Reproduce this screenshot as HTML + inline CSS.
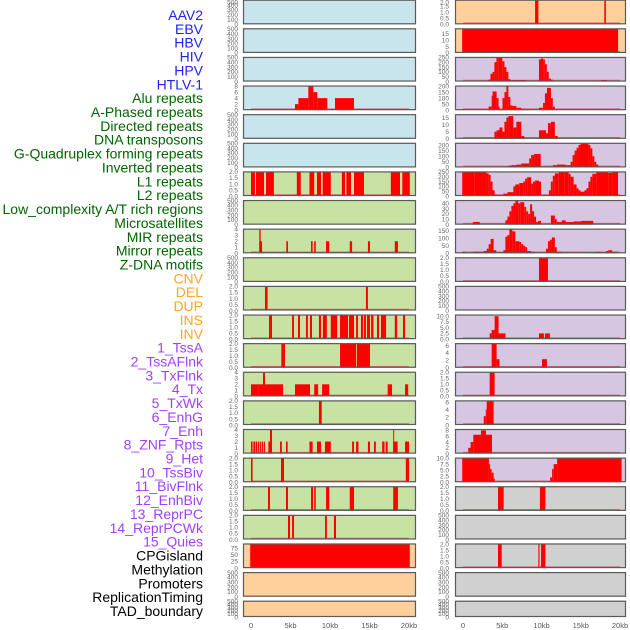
<!DOCTYPE html>
<html><head><meta charset="utf-8">
<style>
html,body{margin:0;padding:0;background:#fff;}
svg{display:block;font-family:"Liberation Sans",sans-serif;}
</style></head>
<body>
<svg id="chart" width="630" height="630" viewBox="0 0 630 630"></svg>
<script>
const labels = ["AAV2","EBV","HBV","HIV","HPV","HTLV-1","Alu repeats","A-Phased repeats","Directed repeats","DNA transposons","G-Quadruplex forming repeats","Inverted repeats","L1 repeats","L2 repeats","Low_complexity A/T rich regions","Microsatellites","MIR repeats","Mirror repeats","Z-DNA motifs","CNV","DEL","DUP","INS","INV","1_TssA","2_TssAFlnk","3_TxFlnk","4_Tx","5_TxWk","6_EnhG","7_Enh","8_ZNF_Rpts","9_Het","10_TssBiv","11_BivFlnk","12_EnhBiv","13_ReprPC","14_ReprPCWk","15_Quies","CPGisland","Methylation","Promoters","ReplicationTiming","TAD_boundary"];
const labelGroups = [6,13,5,15,5];
const groupColors = ["#2020ff","#006400","#ffa520","#a040ff","#000000"];
const xTicks = [0,5,10,15,20];
const xTickLabels = ["0","5kb","10kb","15kb","20kb"];

// y-axis scale per row: left column and right column
const leftYmax  = [500,500,500,8,500,500,2,500,4,500,2,2,2,4,2,4,2,2,2,90,500,500];
const rightYmax = [2,19,250,200,17,215,250,45,160,2,500,10.5,6.5,2,6.3,8.3,10,2,500,2,500,500];
const leftBg  = ["#c8e4ec","#c8e4ec","#c8e4ec","#c8e4ec","#c8e4ec","#c8e4ec","#c8e2a4","#c8e2a4","#c8e2a4","#c8e2a4","#c8e2a4","#c8e2a4","#c8e2a4","#c8e2a4","#c8e2a4","#c8e2a4","#c8e2a4","#c8e2a4","#c8e2a4","#ffd09c","#ffd09c","#ffd09c"];
const rightBg = ["#ffd09c","#ffd09c","#d6c6e2","#d6c6e2","#d6c6e2","#d6c6e2","#d6c6e2","#d6c6e2","#d6c6e2","#d6c6e2","#d6c6e2","#d6c6e2","#d6c6e2","#d6c6e2","#d6c6e2","#d6c6e2","#d6c6e2","#d0d0d0","#d0d0d0","#d0d0d0","#d0d0d0","#d0d0d0"];

const tick500 = [0,100,200,300,400,500];
const tick2 = [0,0.5,1,1.5,2];
const tick4 = [0,1,2,3,4];
const tick8 = [0,2,4,6,8];
const leftTicks  = [tick500,tick500,tick500,tick8,tick500,tick500,tick2,tick500,tick4,tick500,tick2,tick2,tick2,tick4,tick2,tick4,tick2,tick2,tick2,[0,25,50,75],tick500,tick500];
const rightTicks = [tick2,[0,5,10,15],[0,50,100,150,200,250],[0,50,100,150,200],[0,5,10,15],[0,50,100,150,200],[0,50,100,150,200,250],[0,10,20,30,40],[0,50,100,150],tick2,tick500,[0,2.5,5,7.5,10],[0,2,4,6],tick2,[0,2,4,6],tick8,[0,2.5,5,7.5,10],tick2,tick500,tick2,tick500,tick500];

// segments: [startKb, endKb, value]
const L3 = [[5.57,6.0,2],[6.0,7.26,4],[7.26,7.9,8],[7.9,8.4,6],[8.4,9.66,4],[10.63,13.04,4]];
const L6 = [[0,0.5,2],[0.63,1.65,2],[1.9,2.9,2],[5.8,6.3,2],[7.4,8.0,2],[8.35,8.86,2],[9.07,10.1,2],[11.5,11.9,2],[12.07,12.66,2],[13.04,14.3,2],[17.7,18.86,2],[19.15,20.1,2]];
const L8 = [[1.05,1.4,2],[1.05,1.22,4],[4.47,4.68,2],[7.6,7.8,2],[8.0,8.2,2],[9.5,9.9,2],[12.5,12.8,2],[14.8,15.06,2],[18.2,18.6,2]];
const L10 = [[1.77,2.1,2],[14.55,14.8,2]];
const L11 = [[2.28,2.66,2],[5.2,5.44,2],[5.95,6.2,2],[6.96,7.2,2],[7.47,7.72,2],[8.6,8.86,2],[9.1,9.6,2],[10.1,10.9,2],[11.27,12.28,2],[12.4,13.04,2],[13.3,13.54,2],[13.92,14.18,2],[14.3,14.55,2],[14.68,15.06,2],[15.2,15.5,2],[15.95,16.2,2],[16.45,17.1,2],[18.2,18.5,2],[19.24,19.5,2]];
const L12 = [[3.84,4.3,2],[11.27,13.3,2],[13.4,15.06,2]];
const L13 = [[0,1.0,2],[1.0,4.05,2],[1.52,1.77,4],[5.57,7.47,2],[8.0,8.5,2],[9.0,9.9,2],[17.3,17.85,2],[19.5,19.9,2]];
const L14 = [[8.6,8.95,2]];
const L15 = [[0,0.2,2],[0.3,0.55,2],[0.63,0.8,2],[0.9,1.05,2],[1.15,1.3,2],[1.4,1.55,2],[1.65,1.77,2],[2.2,2.66,2],[2.4,2.66,4],[3.67,3.9,2],[4.43,4.64,2],[7.4,7.8,2],[8.35,8.86,2],[9.37,10.1,2],[12.8,13.04,2],[13.3,13.6,2],[14.8,15.06,2],[15.57,15.8,2],[16.6,16.9,2],[17.05,17.3,2],[18.0,18.56,2],[18.0,18.12,4],[19.5,20.0,2]];
const L16 = [[0,0.2,2],[3.8,4.18,2],[19.6,20.0,2]];
const L17 = [[2.15,2.4,2],[4.43,4.68,2],[7.6,7.85,2],[8.0,8.2,2],[9.5,9.9,2],[12.5,13.04,2],[18.0,18.6,2]];
const L18 = [[4.68,4.94,2],[5.2,5.44,2],[9.37,9.6,2],[10.5,10.76,2]];
const L19 = [[-0.1,20.1,90]];

const R0 = [[9.18,9.6,2],[18.0,18.2,2]];
const R1 = [[-0.1,19.75,19]];
const R2 = [[3.26,3.5,20],[3.5,3.75,80],[3.75,4.0,100],[4.0,4.26,200],[4.26,4.5,245],[4.5,5.0,250],[5.0,5.28,210],[5.28,5.53,150],[5.53,5.78,100],[5.78,6.03,25],[6.03,8.05,15],[9.68,9.93,230],[9.93,10.2,240],[10.2,10.43,230],[10.43,10.68,180],[10.68,10.93,100],[10.93,11.2,30],[11.2,11.44,20],[11.44,11.78,10],[17.6,18.37,15]];
const R3 = [[3.27,3.65,30],[3.65,3.77,120],[3.77,4.28,155],[4.28,4.53,100],[4.53,4.65,30],[4.65,5.03,10],[5.03,5.28,100],[5.28,5.53,150],[5.53,5.78,205],[5.78,6.03,110],[6.03,6.29,40],[6.29,6.79,35],[6.79,7.42,20],[7.42,7.92,10],[7.92,8.43,5],[9.68,10.2,20],[10.2,10.44,60],[10.44,10.7,140],[10.7,11.2,185],[11.2,11.44,100],[11.44,11.7,30],[11.7,11.95,10]];
const R4 = [[4.0,4.28,5],[4.28,4.65,6],[4.65,5.03,8],[5.03,5.28,5],[5.28,5.53,12],[5.53,5.78,15],[5.78,6.41,16],[6.41,6.8,8],[6.8,7.42,12],[7.42,7.8,2],[9.68,10.57,6],[10.57,10.82,4],[10.82,11.2,11],[11.2,11.7,12],[11.7,12.08,2]];
const R5 = [[5.78,6.16,15],[6.16,6.79,20],[6.79,7.42,25],[7.42,8.43,35],[8.43,8.68,80],[8.68,9.06,110],[9.06,9.9,120],[11.2,11.44,10],[11.44,11.95,20],[11.95,13.08,25],[13.08,13.71,20],[13.71,13.96,50],[13.96,14.22,110],[14.22,14.47,150],[14.47,14.72,175],[14.72,14.97,200],[14.97,15.98,215],[15.98,16.23,200],[16.23,16.48,170],[16.48,16.73,100],[16.73,16.98,50],[16.98,17.23,25],[17.23,17.48,10]];
const R6 = [[-0.1,1.5,250],[1.5,3.0,245],[3.0,3.27,235],[3.27,3.52,220],[3.52,3.77,150],[3.77,4.03,60],[4.03,4.28,15],[4.28,5.15,3],[5.15,5.66,25],[5.66,6.42,40],[6.42,6.67,100],[6.67,7.17,120],[7.17,7.67,135],[7.67,7.92,150],[7.92,8.17,180],[8.17,8.68,195],[8.68,8.93,130],[8.93,9.18,150],[9.18,9.68,160],[9.68,9.94,150],[10.52,10.94,10],[10.94,11.19,60],[11.19,11.44,150],[11.44,11.7,210],[11.7,12.2,235],[12.2,12.96,245],[12.96,13.46,250],[13.46,13.71,230],[13.71,14.09,200],[14.09,14.47,120],[14.47,14.72,80],[14.72,14.97,60],[14.97,15.47,45],[15.47,15.72,60],[15.72,15.98,80],[15.98,16.23,150],[16.23,16.48,200],[16.48,16.98,230],[16.98,18.49,245],[18.49,18.99,240],[18.99,19.75,245]];
const R7 = [[1.26,2.14,5],[5.4,5.66,8],[5.66,5.91,15],[5.91,6.16,25],[6.16,6.42,35],[6.42,6.67,40],[6.67,7.04,45],[7.04,7.3,40],[7.3,7.8,42],[7.8,8.05,33],[8.05,8.3,25],[8.3,8.55,20],[8.55,8.8,38],[8.8,9.06,25],[9.06,9.31,15],[9.31,9.56,5],[9.56,9.94,7],[11.2,11.7,17],[11.7,11.95,10],[11.95,12.58,5],[12.58,13.08,8],[13.08,14.09,5],[14.09,15.09,6],[15.09,16.6,7]];
const R8 = [[-0.1,0.25,10],[0.25,1.26,5],[1.26,2.64,10],[2.64,3.02,15],[3.02,3.27,30],[3.27,3.52,60],[3.52,3.9,95],[3.9,4.23,20],[5.15,5.4,20],[5.4,5.66,110],[5.66,5.91,120],[5.91,6.29,160],[6.29,6.67,145],[6.67,7.17,80],[7.17,7.42,75],[7.42,7.67,60],[7.67,7.92,50],[7.92,8.17,40],[8.17,8.68,15],[8.68,9.18,10],[10.57,10.82,30],[10.82,11.07,80],[11.07,11.32,90],[11.32,11.7,105],[11.7,11.95,40],[11.95,12.7,10],[16.35,16.98,5],[16.98,17.48,10],[17.48,18.24,5],[18.24,18.5,15],[18.5,19.0,20],[19.0,19.62,10]];
const R9 = [[9.68,10.82,2]];
const R11 = [[3.4,3.65,2.5],[3.65,4.03,4],[4.03,4.53,10],[4.53,5.41,2.5],[9.68,10.31,2.5],[10.44,11.07,2.5]];
const R12 = [[3.65,4.28,6.5],[4.28,4.65,2.3],[10.06,10.69,2.3]];
const R13 = [[3.4,4.03,2]];
const R14 = [[2.64,2.9,2.3],[2.9,3.02,4],[3.02,3.9,6.3]];
const R15 = [[0.67,0.97,2],[0.97,1.31,4],[1.31,2.29,6.5],[2.29,2.93,8],[2.93,3.69,6.5]];
const R16 = [[-0.1,3.3,10],[3.3,3.45,7.5],[3.45,3.65,5.5],[3.65,3.9,4],[3.9,4.05,1.5],[11.1,11.35,2],[11.35,11.55,5.5],[11.55,11.99,7.5],[11.99,20.2,10]];
const R17 = [[4.46,5.18,2],[9.8,10.5,2]];
const R19 = [[4.46,4.93,2],[9.6,9.75,2],[9.94,10.5,2]];

const leftData  = [null,null,null,L3,null,null,L6,null,L8,null,L10,L11,L12,L13,L14,L15,L16,L17,L18,L19,null,null];
const rightData = [R0,R1,R2,R3,R4,R5,R6,R7,R8,R9,null,R11,R12,R13,R14,R15,R16,R17,null,R19,null,null];

const NS = "http://www.w3.org/2000/svg";
const svg = document.getElementById('chart');
function mk(tag, attrs, parent){const e=document.createElementNS(NS,tag);for(const k in attrs)e.setAttribute(k,attrs[k]);(parent||svg).appendChild(e);return e;}

const cols = [
  {x0:243,x1:416,k0:251,k20:409,tickX:238,ymax:leftYmax,bg:leftBg,ticks:leftTicks,data:leftData,side:'left'},
  {x0:455,x1:626,k0:463,k20:620,tickX:449,ymax:rightYmax,bg:rightBg,ticks:rightTicks,data:rightData,side:'right'}
];
const rowStep = 28.62, rowTop0 = -0.3, panelH = 24.6, clipBottom = 617;

function fmt(t, ticks){ const dec = ticks.some(v=>v%1!==0); return dec ? t.toFixed(1) : String(t); }

cols.forEach(c=>{
  const xs = kb => c.k0 + (kb/20)*(c.k20-c.k0);
  for(let i=0;i<22;i++){
    const top = rowTop0 + i*rowStep;
    const bottom = Math.min(top+panelH, clipBottom);
    const h = bottom-top;
    const g = mk('g',{});
    
    
    const bg = mk('rect',{x:c.x0,y:top,width:c.x1-c.x0,height:h,fill:c.bg[i]},g);
    
    
    const ymax = c.ymax[i];
    const ys = v => bottom - Math.min(v/ymax,1)*(h-0.5);
    const segs = c.data[i];
    if(segs){
      const base = mk('line',{x1:xs(0),x2:xs(20),y1:bottom-1,y2:bottom-1,stroke:'#d05050','stroke-width':1.5,'stroke-opacity':0.8},g);
      
      
      segs.forEach(s=>{
        const xa = Math.max(xs(s[0]), c.x0), xb = Math.min(xs(s[1]), c.x1);
        const y = ys(s[2]);
        const r = mk('rect',{x:xa,y:y,width:Math.max(xb-xa,1),height:bottom-y,fill:'#ff0000'},g);
        
        
      });
    }
    const border = mk('rect',{x:c.x0+0.5,y:top+0.5,width:c.x1-c.x0-1,height:h-1,fill:'none',stroke:'#5a5a5a','stroke-width':1.2},g);
    
    
    const tk = c.ticks[i];
    tk.forEach(t=>{
      let y = bottom - (t/ymax)*(h-0.5);
      if (y < 2) y = 2;
      const tx = mk('text',{x:c.tickX,y:y+2.3,'font-size':6.5,fill:'#666','text-anchor':'end'},g);
      tx.textContent = fmt(t, tk);
      
      
    });
  }
  xTicks.forEach((t,j)=>{
    const tx = mk('text',{x:xs(t),y:628,'font-size':7.5,fill:'#555','text-anchor':'middle'});
    tx.textContent = xTickLabels[j];
    
    
  });
});

let idx = 0;
labelGroups.forEach((n,gi)=>{
  for(let k=0;k<n;k++){
    const y = 15 + idx*13.86;
    const t = mk('text',{x:203,y:y+5,'font-size':14,fill:groupColors[gi],'text-anchor':'end'});
    t.textContent = labels[idx];
    
    
    idx++;
  }
});
</script>
</body></html>
